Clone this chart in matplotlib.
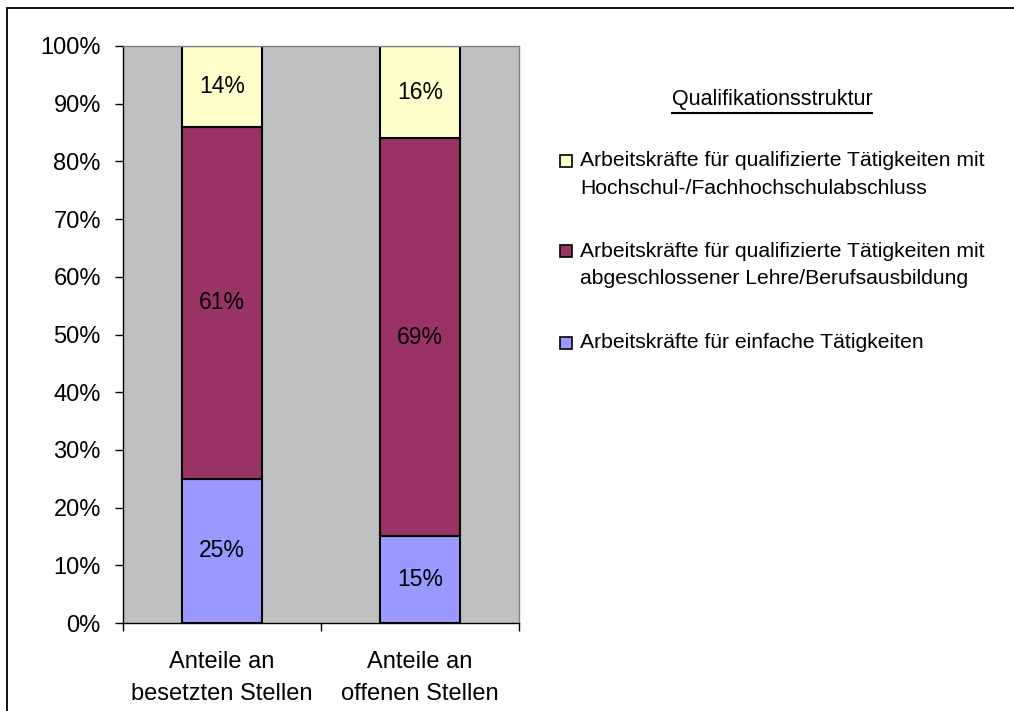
import matplotlib
matplotlib.use("Agg")
import matplotlib.pyplot as plt
from matplotlib.patches import Rectangle
import numpy as np

plt.rcParams["font.family"] = ["Liberation Sans", "DejaVu Sans"]

categories = ["Anteile an\nbesetzten Stellen", "Anteile an\noffenen Stellen"]
einfach = [25, 15]
lehre = [61, 69]
hochschule = [14, 16]

series_labels = [
    "Arbeitskräfte für qualifizierte Tätigkeiten mit\nHochschul-/Fachhochschulabschluss",
    "Arbeitskräfte für qualifizierte Tätigkeiten mit\nabgeschlossener Lehre/Berufsausbildung",
    "Arbeitskräfte für einfache Tätigkeiten",
]
legend_title = "Qualifikationsstruktur"

col_einfach = "#9999FF"
col_lehre = "#993366"
col_hoch = "#FFFFCC"

W, H = 1014, 711
fig = plt.figure(figsize=(W / 100, H / 100), dpi=100)
ax = fig.add_axes([123 / W, 1 - 623 / H, 396 / W, 577 / H])
ax.set_facecolor("#C0C0C0")

x = np.arange(len(categories))
bw = 0.404
b1 = ax.bar(x, einfach, bw, color=col_einfach, edgecolor="black", linewidth=1.5)
b2 = ax.bar(x, lehre, bw, bottom=einfach, color=col_lehre, edgecolor="black", linewidth=1.5)
bottom3 = np.array(einfach) + np.array(lehre)
b3 = ax.bar(x, hochschule, bw, bottom=bottom3, color=col_hoch, edgecolor="black", linewidth=1.5)

for bars in (b1, b2, b3):
    ax.bar_label(bars, labels=[f"{v:.0f}%" for v in bars.datavalues],
                 label_type="center", fontsize=16.5, color="black")

ax.set_xlim(-0.5, 1.5)
ax.set_ylim(0, 100)
ax.set_yticks(np.arange(0, 101, 10))
ax.set_yticklabels([f"{v}%" for v in range(0, 101, 10)], fontsize=17)
ax.tick_params(axis="y", direction="out", length=6, width=1, pad=10)

ax.set_xticks(x)
ax.set_xticklabels(categories, fontsize=17, linespacing=1.55)
ax.tick_params(axis="x", which="major", length=0, pad=20.5)
ax.set_xticks([-0.5, 0.5, 1.5], minor=True)
ax.tick_params(axis="x", which="minor", direction="out", length=6, width=1)

for side in ("left", "bottom"):
    ax.spines[side].set_color("black")
    ax.spines[side].set_linewidth(1)
for side in ("top", "right"):
    ax.spines[side].set_color("#808080")
    ax.spines[side].set_linewidth(1)

# chart frame (only left and top edges fall inside the image)
fig.add_artist(Rectangle((7 / W, -0.5), 2, 1.5 - 8 / H, transform=fig.transFigure,
                         fill=False, edgecolor="black", linewidth=1.3))

# legend drawn by hand
t = fig.text(772 / W, 1 - 100 / H, legend_title, ha="center", va="center", fontsize=15.5)
fig.canvas.draw()
bb = t.get_window_extent()
fig.add_artist(plt.Line2D([bb.x0 / W, bb.x1 / W], [1 - 113 / H, 1 - 113 / H],
                          color="black", linewidth=1.5, transform=fig.transFigure))

legend_colors = [col_hoch, col_lehre, col_einfach]
first_line_y = [161, 251, 343]
line_step = 28
for label, color, y0 in zip(series_labels, legend_colors, first_line_y):
    fig.add_artist(Rectangle((560 / W, 1 - (y0 + 6) / H), 12 / W, 12 / H,
                             transform=fig.transFigure, facecolor=color,
                             edgecolor="black", linewidth=1.2))
    for i, line in enumerate(label.split("\n")):
        fig.text(580 / W, 1 - (y0 + i * line_step) / H, line, ha="left",
                 va="center", fontsize=15.2)

fig.savefig("out.png", dpi=100)
